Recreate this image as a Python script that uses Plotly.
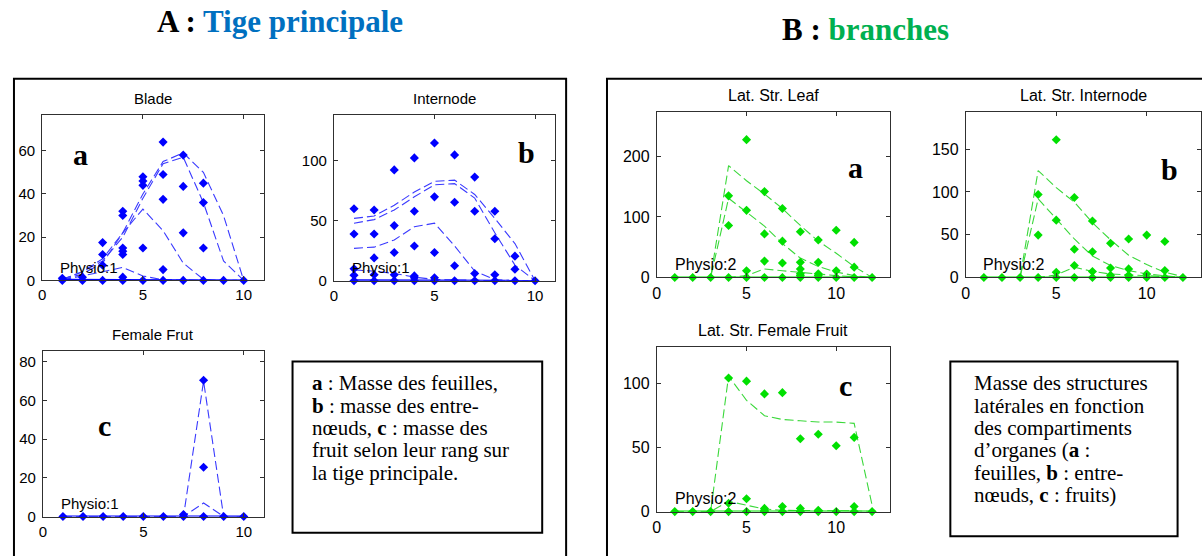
import plotly.graph_objects as go

W, H = 1202, 556

# ---------------- data ----------------
rank_main = [1, 2, 3, 4, 5, 6, 7, 8, 9, 10]
rank_branch = [1, 2, 3, 4, 5, 6, 7, 8, 9, 10, 11, 12]

# Main stem - blade mass per rank (observed)
blade_obs_x = [1, 1, 2, 2, 3, 3, 3, 3, 4, 4, 4, 4, 4, 4, 4, 5, 5, 5, 5, 5,
               6, 6, 6, 6, 6, 7, 7, 7, 7, 8, 8, 8, 8, 9, 10]
blade_obs_y = [1, 0, 1.5, 0, 17.5, 12, 7, 0, 32, 30, 15, 13.5, 12, 1.5, 0, 48, 46, 44, 15, 0,
               64, 49, 37.5, 5, 0, 58, 43.5, 22, 0, 45, 36, 15, 0, 0, 0]
# Main stem - blade mass per rank (simulated, successive ages)
blade_sim_1 = [0.5, 4, 10, 22, 40, 55, 59, 50, 30, 0]
blade_sim_2 = [0.5, 4, 9, 20, 38, 54, 57, 36, 9, 0]
blade_sim_3 = [0.3, 3, 8, 22, 33, 23, 8, 0.5, 0, 0]
blade_sim_4 = [0.2, 2, 4, 6, 2, 0.3, 0, 0, 0, 0]
blade_sim_5 = [0.3, 0.3, 0.2, 0.2, 0.1, 0, 0, 0, 0, 0]

# Main stem - internode mass per rank
internode_obs_x = [1, 1, 1, 1, 1, 2, 2, 2, 2, 2, 3, 3, 3, 3, 3, 4, 4, 4, 4, 4, 4,
                   5, 5, 5, 5, 5, 6, 6, 6, 6, 7, 7, 7, 7, 8, 8, 8, 8, 9, 9, 9, 10]
internode_obs_y = [60, 39, 10, 4.5, 0, 59, 39, 19, 5, 0, 92.5, 46, 23.5, 5, 0, 102.5, 58, 29, 4, 2.5, 0,
                   115, 70, 23.5, 2.5, 0, 105, 65.5, 12.5, 0, 86.5, 58, 6, 0, 58, 35, 5, 0, 20.5, 9.5, 0, 0]
internode_sim_1 = [52, 54, 63, 74, 83, 84, 72, 52, 31, 0]
internode_sim_2 = [48, 51, 59, 70, 80, 81, 69, 40, 13, 0]
internode_sim_3 = [27, 28, 34, 45, 48, 29, 8, 1, 0, 0]
internode_sim_4 = [9, 8, 6, 3, 1, 0.5, 0, 0, 0, 0]
internode_sim_5 = [0.3, 0.3, 0.2, 0.2, 0.1, 0, 0, 0, 0, 0]

# Main stem - female fruit mass per rank
fruit_obs_x = [1, 2, 3, 4, 5, 6, 7, 7, 8, 8, 8, 9, 10]
fruit_obs_y = [0, 0, 0, 0, 0, 0, 1, 0, 70.5, 25.5, 0, 0, 0]
fruit_sim_1 = [0, 0, 0, 0, 0, 0, 0, 70, 0, 0]
fruit_sim_2 = [0, 0, 0, 0, 0, 0, 0, 7, 0, 0]
fruit_sim_3 = [0, 0, 0, 0, 0, 0, 0, 0, 0, 0]

# Branches - lateral structure leaf mass per rank
lat_leaf_obs_x = [1, 2, 3, 4, 4, 4, 5, 5, 5, 5, 6, 6, 6, 6, 7, 7, 7, 7,
                  8, 8, 8, 8, 8, 8, 9, 9, 9, 9, 9, 10, 10, 10, 11, 11, 11, 12]
lat_leaf_obs_y = [0, 0, 0, 135, 86, 0, 228, 111, 11, 0, 142, 72, 27, 0, 114, 60, 24, 0,
                  75.5, 25, 14, 6, 3, 0, 62, 25, 6, 3, 0, 78, 11, 0, 58, 17, 0, 0]
lat_leaf_sim_1 = [0, 0, 0, 185, 160, 138, 114, 86, 60, 40, 18, 0]
lat_leaf_sim_2 = [0, 0, 0, 131, 108, 85, 56, 32, 18, 9, 3, 0]
lat_leaf_sim_3 = [0, 0, 0, 0, 3, 14, 11, 8, 6, 3, 1, 0]
lat_leaf_sim_4 = [0, 0, 0, 0, 0, 0, 0, 0, 0, 0, 0, 0]

# Branches - lateral structure internode mass per rank
lat_int_obs_x = [1, 2, 3, 4, 4, 4, 5, 5, 5, 5, 6, 6, 6, 6, 7, 7, 7, 7,
                 8, 8, 8, 8, 9, 9, 9, 9, 10, 10, 10, 11, 11, 11, 12]
lat_int_obs_y = [0, 0, 0, 97, 49.5, 0, 161, 67, 6, 0, 93.5, 33, 14, 0, 66, 30, 7, 0,
                 40, 11, 2.5, 0, 45, 10, 2.5, 0, 49.5, 4, 0, 42, 8, 0, 0]
lat_int_sim_1 = [0, 0, 0, 125, 105, 88, 64, 44, 26, 15, 6, 1]
lat_int_sim_2 = [0, 0, 0, 92, 68, 45, 25, 14, 8, 4, 2, 0]
lat_int_sim_3 = [0, 0, 0, 0, 3, 12, 7, 4, 3, 2, 1, 0]
lat_int_sim_4 = [0, 0, 0, 0, 0, 0, 0, 0, 0, 0, 0, 0]

# Branches - lateral structure female fruit mass per rank
lat_fruit_obs_x = [1, 2, 3, 4, 4, 4, 5, 5, 5, 6, 6, 6, 6, 7, 7, 7,
                   8, 8, 8, 9, 9, 9, 10, 10, 11, 11, 11, 12]
lat_fruit_obs_y = [0, 0, 0, 104.5, 6.5, 0, 102, 10, 0, 92, 2.5, 1, 0, 93, 4, 0,
                   57, 2.5, 0, 60.5, 1, 0, 51.5, 0, 58, 4, 0, 0]
lat_fruit_sim_1 = [0, 0, 0, 106, 87, 75, 72, 71, 70, 70, 69, 5]
lat_fruit_sim_2 = [0, 0, 0, 8, 5, 2, 1, 1, 0.5, 0.5, 0.5, 0]
lat_fruit_sim_3 = [0, 0, 0, 0, 0, 0, 0, 0, 0, 0, 0, 0]

# ---------------- styling ----------------
BLUE_PT, BLUE_LN = "#0000ff", "#3a3aff"
GREEN_PT, GREEN_LN = "#00e000", "#3ad83a"
SANS = "Liberation Sans, Arial, sans-serif"
SERIF = "Liberation Serif, Times New Roman, serif"

panels = [
    dict(title="Blade", box=(38.3, 117, 260.7, 285), xmax=11, ymax=76.5, yt=[0, 20, 40, 60],
         pt=BLUE_PT, ln=BLUE_LN, rank=rank_main, fs=15,
         sims=[blade_sim_1, blade_sim_2, blade_sim_3, blade_sim_4], base=blade_sim_5,
         ox=blade_obs_x, oy=blade_obs_y, letter="a", lpos=(77, 157), phys="Physio:1", phx=0.78),
    dict(title="Internode", box=(331, 117.3, 553, 285.3), xmax=11, ymax=138, yt=[0, 50, 100],
         pt=BLUE_PT, ln=BLUE_LN, rank=rank_main, fs=15,
         sims=[internode_sim_1, internode_sim_2, internode_sim_3, internode_sim_4], base=internode_sim_5,
         ox=internode_obs_x, oy=internode_obs_y, letter="b", lpos=(524, 155), phys="Physio:1", phx=0.78),
    dict(title="Female Frut", box=(39, 357, 260.7, 525), xmax=11, ymax=85.5, yt=[0, 20, 40, 60, 80],
         pt=BLUE_PT, ln=BLUE_LN, rank=rank_main, fs=15,
         sims=[fruit_sim_1, fruit_sim_2], base=fruit_sim_3,
         ox=fruit_obs_x, oy=fruit_obs_y, letter="c", lpos=(101, 432), phys="Physio:1", phx=0.78),
    dict(title="Lat. Str. Leaf", box=(655, 114.3, 889, 282), xmax=13, ymax=273, yt=[0, 100, 200],
         pt=GREEN_PT, ln=GREEN_LN, rank=rank_branch, fs=16,
         sims=[lat_leaf_sim_1, lat_leaf_sim_2, lat_leaf_sim_3], base=lat_leaf_sim_4,
         ox=lat_leaf_obs_x, oy=lat_leaf_obs_y, letter="a", lpos=(854, 170), phys="Physio:2", phx=0.9),
    dict(title="Lat. Str. Internode", box=(965, 114.3, 1201, 282), xmax=13, ymax=193, yt=[0, 50, 100, 150],
         pt=GREEN_PT, ln=GREEN_LN, rank=rank_branch, fs=16,
         sims=[lat_int_sim_1, lat_int_sim_2, lat_int_sim_3], base=lat_int_sim_4,
         ox=lat_int_obs_x, oy=lat_int_obs_y, letter="b", lpos=(1169, 172), phys="Physio:2", phx=0.85),
    dict(title="Lat. Str. Female Fruit", box=(655, 352.7, 889, 520), xmax=13, ymax=128.7, yt=[0, 50, 100],
         pt=GREEN_PT, ln=GREEN_LN, rank=rank_branch, fs=16,
         sims=[lat_fruit_sim_1, lat_fruit_sim_2], base=lat_fruit_sim_3,
         ox=lat_fruit_obs_x, oy=lat_fruit_obs_y, letter="c", lpos=(844, 392), phys="Physio:2", phx=0.9),
]


def px(x):
    return x / W


def py(y):
    return 1 - y / H


fig = go.Figure()
layout = dict(
    width=W, height=H, margin=dict(l=0, r=0, t=0, b=0),
    paper_bgcolor="white", plot_bgcolor="white", showlegend=False,
)
annotations = []
shapes = []

for i, p in enumerate(panels, start=1):
    xa = "x" if i == 1 else f"x{i}"
    ya = "y" if i == 1 else f"y{i}"
    l, t, r, b = p["box"]
    tick_font = dict(family=SANS, size=p["fs"], color="#000")
    axis_common = dict(
        showgrid=False, zeroline=False, showline=True, linecolor="#303030", linewidth=1,
        mirror="ticks", ticks="inside", ticklen=4, tickcolor="#303030",
        tickfont=tick_font, fixedrange=True,
    )
    layout["xaxis" if i == 1 else f"xaxis{i}"] = dict(
        axis_common, domain=[px(l), px(r)], range=[0, p["xmax"]], tickvals=[0, 5, 10],
        anchor=ya, ticklabelstandoff=1,
    )
    layout["yaxis" if i == 1 else f"yaxis{i}"] = dict(
        axis_common, domain=[py(b), py(t)], range=[0, p["ymax"]], tickvals=p["yt"],
        anchor=xa, ticklabelstandoff=3,
    )

    # simulated curves (dashed)
    for s in p["sims"]:
        fig.add_trace(go.Scatter(
            x=p["rank"], y=s, mode="lines", xaxis=xa, yaxis=ya,
            line=dict(color=p["ln"], width=1.1, dash="9px,4px"),
        ))
    fig.add_trace(go.Scatter(
        x=p["rank"], y=p["base"], mode="lines", xaxis=xa, yaxis=ya,
        line=dict(color=p["pt"], width=2),
    ))
    # observations
    fig.add_trace(go.Scatter(
        x=p["ox"], y=p["oy"], mode="markers", xaxis=xa, yaxis=ya, cliponaxis=False,
        marker=dict(symbol="diamond", size=7, color=p["pt"], line=dict(width=0)),
    ))

    # panel title
    annotations.append(dict(
        text=p["title"], xref="paper", yref="paper", x=px((l + r) / 2), y=py(t - 17),
        xanchor="center", yanchor="middle", showarrow=False,
        font=dict(family=SANS, size=p["fs"], color="#000"),
    ))
    # physiological age label
    annotations.append(dict(
        text=p["phys"], xref=xa, yref=ya + " domain", x=p["phx"], y=0.078,
        xanchor="left", yanchor="middle", showarrow=False,
        font=dict(family=SANS, size=p["fs"], color="#000"),
    ))
    # panel letter
    lx, ly = p["lpos"]
    annotations.append(dict(
        text=f"<b>{p['letter']}</b>", xref="paper", yref="paper", x=px(lx), y=py(ly),
        xanchor="center", yanchor="middle", showarrow=False,
        font=dict(family=SERIF, size=30, color="#000"),
    ))

# section headings
annotations.append(dict(
    text="<b>A : <span style='color:#0070c0'>Tige principale</span></b>",
    xref="paper", yref="paper", x=px(277), y=py(22), xanchor="center", yanchor="middle",
    showarrow=False, font=dict(family=SERIF, size=31, color="#000"),
))
annotations.append(dict(
    text="<b>B : <span style='color:#00b050'>branches</span></b>",
    xref="paper", yref="paper", x=px(864), y=py(30), xanchor="center", yanchor="middle",
    showarrow=False, font=dict(family=SERIF, size=31, color="#000"),
))

# caption boxes
caption_a = [
    "<b>a</b> : Masse des feuilles,",
    "<b>b</b> : masse des entre-",
    "nœuds, <b>c</b> : masse des",
    "fruit selon leur rang sur",
    "la tige principale.",
]
caption_b = [
    "Masse des structures",
    "latérales en fonction",
    "des compartiments",
    "d’organes (<b>a</b> :",
    "feuilles, <b>b</b> : entre-",
    "nœuds, <b>c</b> : fruits)",
]
for k, line in enumerate(caption_a):
    annotations.append(dict(
        text=line, xref="paper", yref="paper", x=px(307), y=py(389.5 + 22.75 * k),
        xanchor="left", yanchor="middle", showarrow=False,
        font=dict(family=SERIF, size=21, color="#000"),
    ))
for k, line in enumerate(caption_b):
    annotations.append(dict(
        text=line, xref="paper", yref="paper", x=px(971), y=py(389.5 + 22.7 * k),
        xanchor="left", yanchor="middle", showarrow=False,
        font=dict(family=SERIF, size=21, color="#000"),
    ))

# outer frames and caption borders
frame = dict(type="rect", xref="paper", yref="paper", line=dict(color="#000", width=2),
             fillcolor="rgba(0,0,0,0)", layer="below")
shapes.append(dict(frame, x0=px(10), x1=px(564), y0=py(600), y1=py(80)))
shapes.append(dict(frame, x0=px(605), x1=px(1260), y0=py(600), y1=py(80)))
shapes.append(dict(frame, x0=px(289.5), x1=px(540), y0=py(541.5), y1=py(367.5)))
shapes.append(dict(frame, x0=px(949.5), x1=px(1177.5), y0=py(545), y1=py(367.5)))

layout["annotations"] = annotations
layout["shapes"] = shapes
fig.update_layout(**layout)

fig.write_html("out.html")
